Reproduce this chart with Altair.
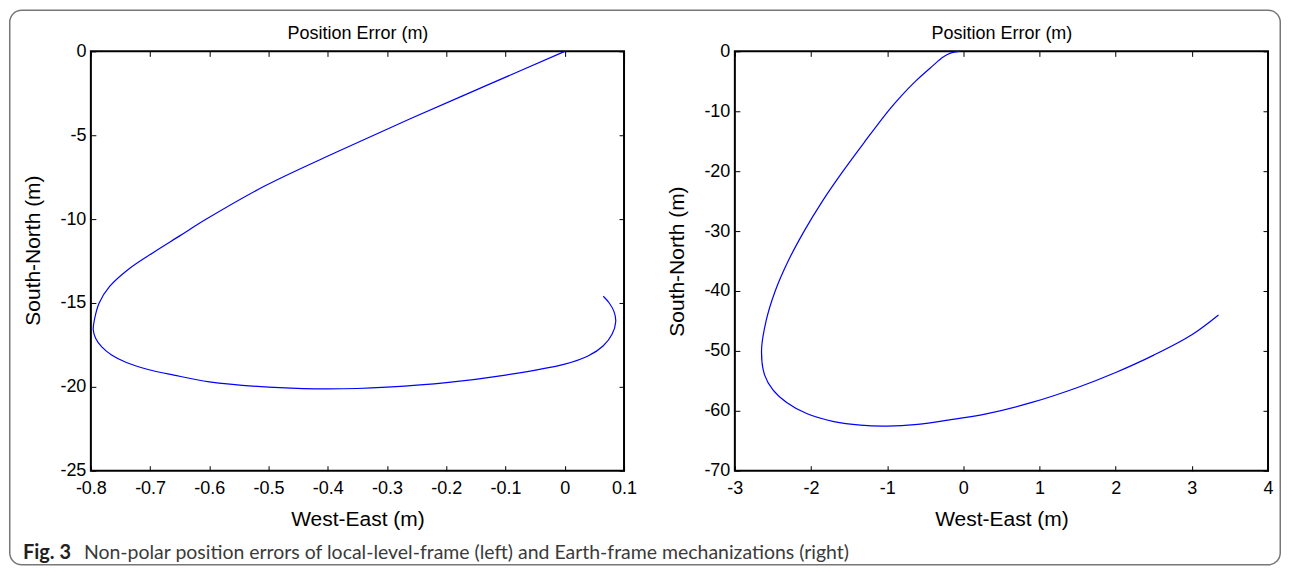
import altair as alt
import pandas as pd

TITLE = "Position Error (m)"
X_TITLE = "West-East (m)"
Y_TITLE = "South-North (m)"
CAPTION_LABEL = "Fig. 3"
CAPTION_TEXT = "Non-polar position errors of local-level-frame (left) and Earth-frame mechanizations (right)"

# Left panel: local-level-frame mechanization (path order)
left_x = [0.0, -0.13, -0.26, -0.385, -0.505, -0.605, -0.65, -0.695, -0.737,
          -0.768, -0.786, -0.794, -0.796, -0.792, -0.782, -0.765, -0.74, -0.705,
          -0.66, -0.6, -0.5, -0.42, -0.35, -0.3, -0.2, -0.1, 0.0, 0.04, 0.065,
          0.08, 0.086, 0.083, 0.075, 0.065]
left_y = [0.0, -2.0, -4.0, -6.0, -8.0, -10.0, -11.0, -12.0, -13.0, -14.0,
          -15.0, -16.0, -16.6, -17.1, -17.6, -18.1, -18.55, -18.95, -19.3,
          -19.7, -20.02, -20.12, -20.1, -20.02, -19.75, -19.3, -18.65, -18.15,
          -17.55, -16.85, -16.1, -15.5, -15.0, -14.6]

# Right panel: Earth-frame mechanization (path order)
right_x = [-0.05, -0.17, -0.27, -0.41, -0.63, -0.82, -0.99, -1.29, -1.58,
           -1.85, -2.09, -2.3, -2.47, -2.59, -2.65, -2.61, -2.5, -2.32, -2.05,
           -1.7, -1.35, -1.0, -0.6, -0.2, 0.3, 0.9, 1.5, 2.0, 2.5, 3.0, 3.35]
right_y = [0.0, -0.3, -1.0, -2.5, -5.0, -7.5, -10.0, -15.0, -20.0, -25.0,
           -30.0, -35.0, -40.0, -45.0, -50.0, -54.0, -56.5, -58.6, -60.5,
           -61.8, -62.4, -62.55, -62.25, -61.55, -60.5, -58.6, -56.1, -53.6,
           -50.7, -47.3, -44.0]

left_x_ticks = [-0.8, -0.7, -0.6, -0.5, -0.4, -0.3, -0.2, -0.1, 0, 0.1]
left_y_ticks = [0, -5, -10, -15, -20, -25]
right_x_ticks = [-3, -2, -1, 0, 1, 2, 3, 4]
right_y_ticks = [0, -10, -20, -30, -40, -50, -60, -70]

FONT = "Liberation Sans"
CAP_FONT = "Lato"
LABEL_EXPR = "'' + datum.value"


def panel(xs, ys, xdom, ydom, xticks, yticks, before=(), after=(), ytitle_y=None):
    df = pd.DataFrame({"x": xs, "y": ys, "i": list(range(len(xs)))})
    xsc = alt.Scale(domain=xdom, nice=False, zero=False)
    ysc = alt.Scale(domain=ydom, nice=False, zero=False)
    common = dict(offset=-5, tickSize=5, domain=False, grid=False,
                  labelOverlap=False, labelFlush=False)
    left_kw = dict(orient="left", values=yticks, title=Y_TITLE,
                   labelExpr=LABEL_EXPR, labelPadding=5, titlePadding=16, **common)
    if ytitle_y is not None:
        left_kw["titleY"] = ytitle_y
    main = alt.Chart(df).mark_line(
        color="#0000ff", strokeWidth=1.2, interpolate="catmull-rom"
    ).encode(
        x=alt.X("x:Q", scale=xsc,
                axis=alt.Axis(orient="bottom", values=xticks, title=X_TITLE,
                              labelExpr=LABEL_EXPR, labelPadding=9,
                              titlePadding=11, **common)),
        y=alt.Y("y:Q", scale=ysc, axis=alt.Axis(**left_kw)),
        order="i:Q",
    )
    frame = alt.Chart(df).mark_point(opacity=0).encode(
        x=alt.X("x:Q", scale=xsc,
                axis=alt.Axis(orient="top", values=xticks, title=TITLE,
                              labels=False, titleFontSize=18, titlePadding=8,
                              **common)),
        y=alt.Y("y:Q", scale=ysc,
                axis=alt.Axis(orient="right", values=yticks, title=None,
                              labels=False, **common)),
    )
    return alt.layer(*before, main, frame, *after).resolve_axis(
        x="independent", y="independent"
    ).properties(width=534, height=420)


aux = pd.DataFrame({"k": [0]})
border = alt.Chart(aux).mark_rect(
    fillOpacity=0, stroke="#777777", strokeWidth=1.5, cornerRadius=12
).encode(x=alt.value(-81.25), x2=alt.value(1191.25), y=alt.value(-41.25), y2=alt.value(514.25))

cap_label = alt.Chart(aux).mark_text(
    text=CAPTION_LABEL, font=CAP_FONT, fontWeight="bold", fontSize=20,
    align="left", baseline="alphabetic", color="#231f20"
).encode(x=alt.value(-68), y=alt.value(508))

cap_text = alt.Chart(aux).mark_text(
    text=CAPTION_TEXT, font=CAP_FONT, fontSize=19.5,
    align="left", baseline="alphabetic", color="#3a3a3a"
).encode(x=alt.value(-7), y=alt.value(508))

left = panel(left_x, left_y, [-0.8, 0.1], [-25, 0], left_x_ticks, left_y_ticks,
             before=(border,), after=(cap_label, cap_text), ytitle_y=199)
right = panel(right_x, right_y, [-3, 4], [-70, 0], right_x_ticks, right_y_ticks)

chart = alt.hconcat(left, right, spacing=111, bounds="flush").properties(
    padding=0, background="white"
).configure_view(stroke="black", strokeWidth=2).configure_axis(
    labelFont=FONT, labelFontSize=18, labelColor="black",
    titleFont=FONT, titleFontSize=21, titleFontWeight="normal", titleColor="black",
    tickColor="black", tickWidth=1
)

chart.save("out.html", embed_options={"renderer": "svg", "actions": False})
